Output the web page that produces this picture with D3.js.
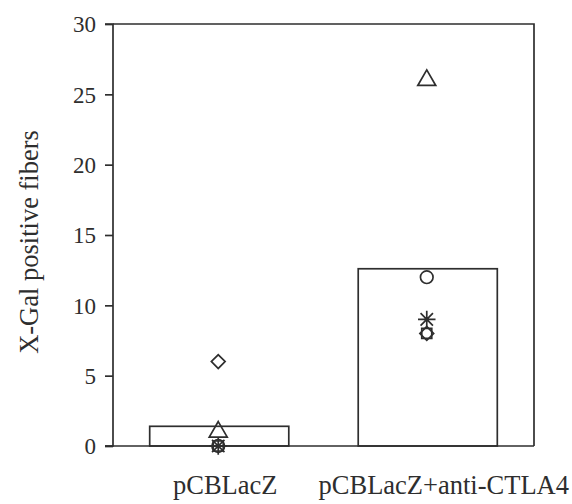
<!DOCTYPE html>
<html>
<head>
<meta charset="utf-8">
<script src="https://cdn.jsdelivr.net/npm/d3@7"></script>
<style>
  html, body { margin: 0; padding: 0; background: #fff; }
  svg { display: block; }
  text { font-family: "Liberation Serif", "Times New Roman", serif; fill: #2e2e2e; }
</style>
</head>
<body>
<svg id="chart" width="572" height="504"></svg>
<script>
// ---- data ----
const categories = ["pCBLacZ", "pCBLacZ+anti-CTLA4"];
const barValues = [1.4, 12.6];           // group means (bars)
const triangleValues = [1, 26];
const circleValues = [0, 12];
const asteriskValues = [0, 9];
const diamondValues = [6, 8];
const squareValues = [0, 8];
const yTicks = [0, 5, 10, 15, 20, 25, 30];
const yLabel = "X-Gal positive fibers";

// ---- layout ----
const svg = d3.select("#chart");
const plotL = 113, plotR = 534, plotT = 24, plotB = 446;
const ink = "#2e2e2e";
const sw = 1.7;

const x = d3.scaleBand().domain(categories).range([plotL, plotR])
  .paddingInner(0.333).paddingOuter(0.176);
const y = d3.scaleLinear().domain([0, 30]).range([plotB, plotT]);

// plot frame (top and right)
svg.append("path")
  .attr("d", `M${plotL},${plotT}H${plotR}V${plotB}`)
  .attr("fill", "none").attr("stroke", ink).attr("stroke-width", sw);

// bars
svg.selectAll("rect.bar").data(categories).enter().append("rect")
  .attr("class", "bar")
  .attr("x", d => x(d))
  .attr("width", x.bandwidth())
  .attr("y", (d, i) => y(barValues[i]))
  .attr("height", (d, i) => y(0) - y(barValues[i]))
  .attr("fill", "none").attr("stroke", ink).attr("stroke-width", sw);

// y axis
const yAxis = d3.axisLeft(y).tickValues(yTicks).tickSize(8).tickPadding(9)
  .tickFormat(d3.format("d"));
const gy = svg.append("g").attr("transform", `translate(${plotL},0)`).call(yAxis);
gy.select(".domain").attr("stroke", ink).attr("stroke-width", sw)
  .attr("d", `M-8,${plotT}H0V${plotB}H-8`);
gy.selectAll(".tick line").attr("stroke", ink).attr("stroke-width", sw);
gy.selectAll(".tick text").style("font-size", "23px")
  .style("font-family", "'Liberation Serif', serif").attr("fill", ink).attr("dy", "0.34em");

// x axis baseline (no ticks) + labels
const xAxis = d3.axisBottom(x).tickSize(0).tickPadding(29);
const gx = svg.append("g").attr("transform", `translate(0,${plotB})`).call(xAxis);
gx.select(".domain").attr("stroke", ink).attr("stroke-width", sw)
  .attr("d", `M${plotL - 8},0H${plotR}`);
const labelShift = [6, 16];
gx.selectAll(".tick text").style("font-size", "26.5px")
  .style("font-family", "'Liberation Serif', serif").attr("fill", ink)
  .attr("dx", (d, i) => labelShift[i]);

// y label
svg.append("text")
  .attr("transform", `translate(38,${242}) rotate(-90)`)
  .attr("text-anchor", "middle")
  .style("font-size", "26.5px")
  .text(yLabel);

// ---- point symbols ----
const asterisk = {
  draw(ctx, size) {
    const r = Math.sqrt(size) * 0.62;
    for (let k = 0; k < 4; k++) {
      const a = k * Math.PI / 4;
      ctx.moveTo(-r * Math.cos(a), -r * Math.sin(a));
      ctx.lineTo(r * Math.cos(a), r * Math.sin(a));
    }
  }
};
const series = [
  { values: squareValues, type: d3.symbolSquare, size: 100, rot: 0 },
  { values: diamondValues, type: d3.symbolSquare, size: 95, rot: 45 },
  { values: circleValues, type: d3.symbolCircle, size: 125, rot: 0 },
  { values: asteriskValues, type: asterisk, size: 200, rot: 0 },
  { values: triangleValues, type: d3.symbolTriangle, size: 140, rot: 0 }
];
series.forEach(s => {
  svg.append("g").selectAll("path").data(categories).enter().append("path")
    .attr("transform", (d, i) =>
      `translate(${x(d) + x.bandwidth() / 2 - 1},${y(s.values[i])}) rotate(${s.rot})`)
    .attr("d", d3.symbol().type(s.type).size(s.size))
    .attr("fill", "none").attr("stroke", ink).attr("stroke-width", sw);
});
</script>
</body>
</html>
